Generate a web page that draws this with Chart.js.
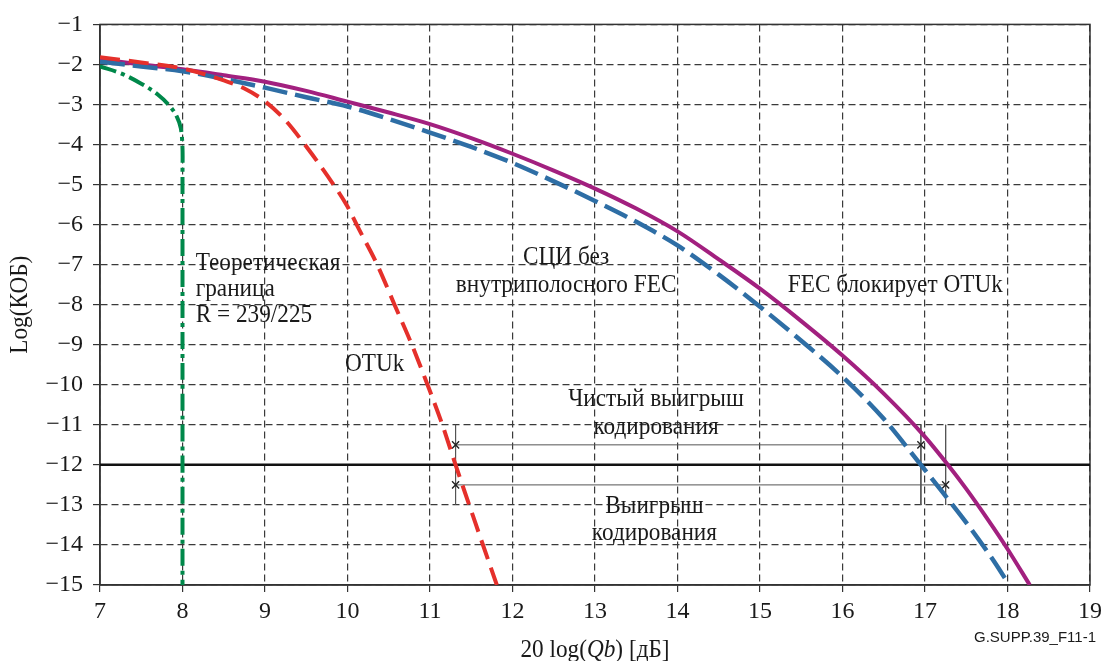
<!DOCTYPE html>
<html>
<head>
<meta charset="utf-8">
<script src="https://cdn.jsdelivr.net/npm/chart.js@4.4.1/dist/chart.umd.min.js"></script>
<style>
  html, body { margin: 0; padding: 0; background: #fff; }
  #wrap { width: 1107px; height: 661px; position: relative; }
</style>
</head>
<body>
<div id="wrap"><canvas id="c" width="1107" height="661"></canvas></div>
<script>
// Axis ranges
const xRange = [7, 19];
const yRange = [-15, -1];

// Theoretical limit, R = 239/225
const limitX = [7, 7.25, 7.5, 7.7, 7.85, 7.93, 7.98, 8.0, 8.0, 8.0];
const limitY = [-2.05, -2.22, -2.48, -2.75, -3.05, -3.3, -3.6, -4.1, -4.7, -15];

// FEC blocks OTUk
const fecX = [7, 7.5, 8, 8.5, 9, 9.5, 10, 10.5, 11, 11.5, 12, 12.5, 13, 13.5, 14, 14.5, 15, 15.5, 16, 16.5, 17, 17.27, 17.5, 17.75, 18, 18.27];
const fecY = [-1.87, -2.0, -2.12, -2.27, -2.43, -2.66, -2.93, -3.2, -3.49, -3.84, -4.23, -4.65, -5.1, -5.6, -6.17, -6.87, -7.6, -8.41, -9.27, -10.22, -11.3, -11.98, -12.6, -13.33, -14.1, -15.0];

// SDH without in-band FEC
const sdhX = [7, 7.5, 8, 8.5, 9, 9.5, 10, 10.5, 11, 11.5, 12, 12.5, 13, 13.5, 14, 14.5, 15, 15.5, 16, 16.5, 16.95, 17.22, 17.54, 17.84, 18.02];
const sdhY = [-1.93, -2.05, -2.17, -2.36, -2.58, -2.82, -3.05, -3.36, -3.7, -4.06, -4.46, -4.92, -5.41, -5.93, -6.52, -7.25, -8.05, -8.9, -9.8, -10.85, -12.0, -12.7, -13.55, -14.42, -15.0];

// OTUk
const otuX = [7, 7.5, 8, 8.5, 8.75, 9, 9.25, 9.5, 9.76, 10, 10.12, 10.36, 10.57, 10.78, 10.97, 11.15, 11.31, 11.55, 11.81];
const otuY = [-1.82, -1.95, -2.1, -2.4, -2.6, -2.92, -3.4, -4.05, -4.79, -5.55, -6.04, -7.0, -8.0, -9.0, -10.0, -11.0, -12.0, -13.45, -15.0];

// Reference BER level
const refLevel = -12;

// Coding gain brackets
const gainEdgeX = [11.31, 16.95, 17.25];
const gainEdgeY = [-11, -13];
const netGainLevel = -11.5;
const netGainX = [11.31, 16.95];
const codingGainLevel = -12.5;
const codingGainX = [11.31, 17.25];

const serif = '"Liberation Serif", "Times New Roman", serif';
const pts = (xs, ys) => xs.map((x, i) => ({ x: x, y: ys[i] }));

const datasets = [
  { data: pts(otuX, otuY), borderColor: '#e5302b', borderWidth: 4, borderDash: [20, 9], cubicInterpolationMode: 'monotone', order: 1 },
  { data: pts(sdhX, sdhY), borderColor: '#2e6ea5', borderWidth: 4.5, borderDash: [25, 8], cubicInterpolationMode: 'monotone', order: 2 },
  { data: pts(fecX, fecY), borderColor: '#a2207f', borderWidth: 4, cubicInterpolationMode: 'monotone', order: 3 },
  { data: pts(limitX, limitY), borderColor: '#00884a', borderWidth: 4, borderDash: [17, 5, 4, 5], tension: 0.35, order: 4 },
  { data: pts(xRange, [refLevel, refLevel]), borderColor: '#111', borderWidth: 2.5, order: 6 }
];
gainEdgeX.forEach(x => datasets.push({ data: pts([x, x], gainEdgeY), borderColor: '#555', borderWidth: 1, order: 7 }));
datasets.push({ data: pts(netGainX, [netGainLevel, netGainLevel]), borderColor: '#555', borderWidth: 1, order: 7 });
datasets.push({ data: pts(codingGainX, [codingGainLevel, codingGainLevel]), borderColor: '#555', borderWidth: 1, order: 7 });
datasets.push({
  data: pts(netGainX, [netGainLevel, netGainLevel]).concat(pts(codingGainX, [codingGainLevel, codingGainLevel])),
  showLine: false, pointStyle: 'crossRot', pointRadius: 5, pointBorderWidth: 1.4,
  pointBorderColor: '#222', borderColor: '#222', order: 5
});
datasets.forEach(d => { if (d.pointRadius === undefined) d.pointRadius = 0; d.fill = false; });

// Curve captions, placed in data coordinates
const notes = [
  { t: 'Теоретическая', x: 8.16, y: -6.98, a: 'left' },
  { t: 'граница', x: 8.16, y: -7.63, a: 'left' },
  { t: 'R = 239/225', x: 8.16, y: -8.27, a: 'left' },
  { t: 'СЦИ без', x: 12.65, y: -6.82, a: 'center' },
  { t: 'внутриполосного FEC', x: 12.65, y: -7.51, a: 'center' },
  { t: 'FEC блокирует OTUk', x: 16.64, y: -7.51, a: 'center' },
  { t: 'OTUk', x: 10.33, y: -9.49, a: 'center' },
  { t: 'Чистый выигрыш', x: 13.74, y: -10.36, a: 'center' },
  { t: 'кодирования', x: 13.74, y: -11.06, a: 'center' },
  { t: 'Выигрыш', x: 13.72, y: -13.05, a: 'center' },
  { t: 'кодирования', x: 13.72, y: -13.72, a: 'center' }
];

// Narrow serif text: drawn taller than wide
const squeeze = 0.93;
function narrowText(ctx, text, x, y, align) {
  ctx.save();
  ctx.translate(x, y);
  ctx.scale(squeeze, 1);
  ctx.textAlign = align;
  ctx.fillText(text, 0, 0);
  ctx.restore();
}

const decor = {
  id: 'decor',
  beforeDatasetsDraw(chart) {
    const { ctx, chartArea: a } = chart;
    ctx.save();
    ctx.strokeStyle = '#333';
    ctx.lineWidth = 1.5;
    ctx.strokeRect(a.left, a.top, a.right - a.left, a.bottom - a.top);
    ctx.restore();
  },
  afterDatasetsDraw(chart) {
    const { ctx, chartArea: a, scales } = chart;
    ctx.save();
    ctx.fillStyle = '#1a1a1a';
    ctx.textBaseline = 'middle';
    ctx.font = '25px ' + serif;
    notes.forEach(n => {
      narrowText(ctx, n.t, scales.x.getPixelForValue(n.x), scales.y.getPixelForValue(n.y), n.a);
    });

    // y-axis title
    ctx.save();
    ctx.translate(20, (a.top + a.bottom) / 2);
    ctx.rotate(-Math.PI / 2);
    ctx.font = '25px ' + serif;
    narrowText(ctx, 'Log(КОБ)', 0, 0, 'center');
    ctx.restore();

    // x-axis title with italic Qb
    const parts = [['20 log(', ''], ['Qb', 'italic '], [') [дБ]', '']];
    let total = 0;
    parts.forEach(p => { ctx.font = p[1] + '25px ' + serif; total += ctx.measureText(p[0]).width * squeeze; });
    let cx = (a.left + a.right) / 2 - total / 2;
    parts.forEach(p => {
      ctx.font = p[1] + '25px ' + serif;
      narrowText(ctx, p[0], cx, 650, 'left');
      cx += ctx.measureText(p[0]).width * squeeze;
    });

    // figure reference
    ctx.font = '15px "Liberation Sans", Arial, sans-serif';
    ctx.textAlign = 'right';
    ctx.fillText('G.SUPP.39_F11-1', 1096, 638);
    ctx.restore();
  }
};

const gridCommon = {
  color: '#3a3a3a', lineWidth: 1.2, drawTicks: true, tickLength: 7,
  tickColor: '#333', tickWidth: 1.2, tickBorderDash: []
};
const borderCommon = { display: true, color: '#333', width: 1.5, dash: [7, 4] };

new Chart(document.getElementById('c'), {
  type: 'line',
  data: { datasets: datasets },
  options: {
    responsive: false,
    devicePixelRatio: 1,
    animation: false,
    layout: { padding: { top: 20, right: 9, left: 0, bottom: 0 } },
    plugins: { legend: { display: false }, tooltip: { enabled: false } },
    elements: { line: { capBezierPoints: true } },
    scales: {
      x: {
        type: 'linear', min: xRange[0], max: xRange[1],
        ticks: { stepSize: 1, autoSkip: false, maxRotation: 0, padding: 5, color: '#1a1a1a', font: { family: serif, size: 24 } },
        grid: gridCommon, border: borderCommon,
        afterFit(s) { s.height = 76; }
      },
      y: {
        type: 'linear', min: yRange[0], max: yRange[1],
        ticks: {
          stepSize: 1, autoSkip: false, padding: 10, color: '#1a1a1a', font: { family: serif, size: 24 },
          callback: v => (v < 0 ? '\u2212' : '') + Math.abs(v)
        },
        grid: gridCommon, border: borderCommon,
        afterFit(s) { s.width = 100; }
      }
    }
  },
  plugins: [decor]
});
</script>
</body>
</html>
